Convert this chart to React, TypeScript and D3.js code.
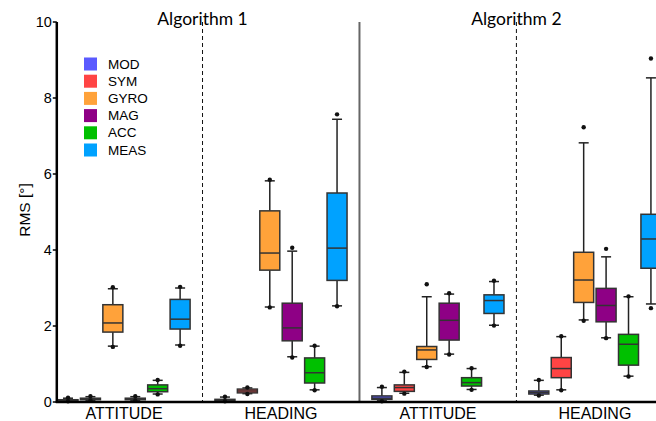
import React from "react";
import * as d3 from "d3";

// Series & groups
const seriesNames = ["MOD", "SYM", "GYRO", "MAG", "ACC", "MEAS"];
const seriesColors = ["#5a5aff", "#ff4444", "#ffa23a", "#8e0085", "#00c000", "#00a2ff"];
const groupLabels = ["ATTITUDE", "HEADING", "ATTITUDE", "HEADING"];
const algorithmTitles = ["Algorithm 1", "Algorithm 2"];
const yTicks = [0, 2, 4, 6, 8, 10];

// Each entry: [min, whiskerLow, q1, median, q3, whiskerHigh, max] per group
const MOD = [
  [0.02, 0.02, 0.03, 0.05, 0.06, 0.1, 0.11],
  [0.02, 0.02, 0.03, 0.05, 0.07, 0.13, 0.14],
  [0.02, 0.03, 0.07, 0.1, 0.16, 0.38, 0.4],
  [0.17, 0.18, 0.21, 0.25, 0.29, 0.57, 0.58],
];
const SYM = [
  [0.04, 0.04, 0.06, 0.08, 0.1, 0.14, 0.15],
  [0.21, 0.22, 0.24, 0.29, 0.34, 0.37, 0.38],
  [0.22, 0.23, 0.28, 0.38, 0.45, 0.78, 0.8],
  [0.31, 0.32, 0.64, 0.88, 1.17, 1.72, 1.73],
];
const GYRO = [
  [1.45, 1.47, 1.84, 2.08, 2.56, 2.98, 3.02],
  [2.49, 2.5, 3.47, 3.92, 5.03, 5.82, 5.85],
  [0.92, 0.93, 1.12, 1.37, 1.46, 2.77, 3.1],
  [2.14, 2.16, 2.62, 3.21, 3.94, 6.82, 7.23],
];
const MAG = [
  [0.04, 0.04, 0.06, 0.08, 0.1, 0.14, 0.15],
  [1.17, 1.19, 1.61, 1.95, 2.6, 3.97, 4.06],
  [1.25, 1.26, 1.63, 2.15, 2.6, 2.84, 2.86],
  [1.68, 1.69, 2.11, 2.54, 2.99, 3.82, 4.03],
];
const ACC = [
  [0.2, 0.21, 0.27, 0.35, 0.45, 0.57, 0.58],
  [0.31, 0.32, 0.5, 0.77, 1.16, 1.47, 1.48],
  [0.32, 0.33, 0.42, 0.51, 0.64, 0.88, 0.89],
  [0.67, 0.68, 0.97, 1.52, 1.78, 2.77, 2.78],
];
const MEAS = [
  [1.48, 1.5, 1.92, 2.18, 2.7, 3.0, 3.03],
  [2.52, 2.53, 3.2, 4.05, 5.5, 7.44, 7.57],
  [2.01, 2.02, 2.33, 2.67, 2.82, 3.17, 3.19],
  [2.47, 2.58, 3.52, 4.29, 4.94, 8.53, 9.04],
];
const seriesData = [MOD, SYM, GYRO, MAG, ACC, MEAS];

const W = 656;
const H = 421;

export default function App() {
  const slotsPerGroup = 7;
  const x = d3.scaleLinear().domain([-0.5, 27.5]).range([56.8, 56.8 + 28 * 22.42]);
  const y = d3.scaleLinear().domain([0, 10]).range([402, 22]);
  const boxW = 20;
  const capW = 10;
  const axisFont = "'Liberation Sans', Arial, sans-serif";

  const boxes: React.ReactNode[] = [];
  seriesData.forEach((sd, si) => {
    sd.forEach((st, gi) => {
      const [mn, lo, q1, med, q3, hi, mx] = st;
      const cx = x(gi * slotsPerGroup + si);
      const color = seriesColors[si];
      boxes.push(
        <g key={`b-${si}-${gi}`}>
          <line x1={cx} x2={cx} y1={y(hi)} y2={y(q3)} stroke="#222" strokeWidth={1.5} />
          <line x1={cx} x2={cx} y1={y(q1)} y2={y(lo)} stroke="#222" strokeWidth={1.5} />
          <line x1={cx - capW / 2} x2={cx + capW / 2} y1={y(hi)} y2={y(hi)} stroke="#222" strokeWidth={1.5} />
          <line x1={cx - capW / 2} x2={cx + capW / 2} y1={y(lo)} y2={y(lo)} stroke="#222" strokeWidth={1.5} />
          <rect
            x={cx - boxW / 2}
            y={y(q3)}
            width={boxW}
            height={Math.max(y(q1) - y(q3), 1)}
            fill={color}
            stroke="#333"
            strokeWidth={1.5}
          />
          <line x1={cx - boxW / 2} x2={cx + boxW / 2} y1={y(med)} y2={y(med)} stroke="#333" strokeWidth={1.5} />
          <circle cx={cx} cy={y(mx)} r={2.2} fill="#111" />
          <circle cx={cx} cy={y(mn)} r={2.2} fill="#111" />
        </g>
      );
    });
  });

  const dividers = [1, 2, 3].map((k) => {
    const xv = x(k * slotsPerGroup - 1);
    if (k === 2) {
      return <line key={`d${k}`} x1={xv} x2={xv} y1={y(10)} y2={y(0)} stroke="#666" strokeWidth={2} />;
    }
    return (
      <line key={`d${k}`} x1={xv} x2={xv} y1={y(10)} y2={y(0)} stroke="#111" strokeWidth={1} strokeDasharray="4,3" />
    );
  });

  return (
    <div style={{ position: "fixed", left: 0, top: 0 }}>
      <svg width={W} height={H} style={{ display: "block", background: "#fff" }}>
        {dividers}
        {boxes}
        {/* y axis */}
        <line x1={x(-0.5)} x2={x(-0.5)} y1={y(10)} y2={y(0) + 1} stroke="#000" strokeWidth={2.5} />
        {yTicks.map((t) => (
          <g key={`t${t}`}>
            <line x1={x(-0.5) - 4} x2={x(-0.5)} y1={y(t)} y2={y(t)} stroke="#000" strokeWidth={1.5} />
            <text
              x={x(-0.5) - 5}
              y={y(t)}
              textAnchor="end"
              dominantBaseline="central"
              fontFamily={axisFont}
              fontSize={14.5}
              fill="#000"
            >
              {t}
            </text>
          </g>
        ))}
        {/* x axis */}
        <line x1={x(-0.5) - 1} x2={W} y1={y(0)} y2={y(0)} stroke="#000" strokeWidth={2.5} />
        {groupLabels.map((g, gi) => (
          <text
            key={`g${gi}`}
            x={x(gi * slotsPerGroup + 2.5)}
            y={419}
            textAnchor="middle"
            fontFamily={axisFont}
            fontSize={16}
            fill="#000"
          >
            {g}
          </text>
        ))}
        {algorithmTitles.map((t, ai) => (
          <text
            key={`a${ai}`}
            x={x(ai * 14 + 6)}
            y={25}
            textAnchor="middle"
            fontFamily="Lato, 'Open Sans', sans-serif"
            fontSize={17.5}
            fill="#000"
          >
            {t}
          </text>
        ))}
        <text
          transform={`translate(30, 210) rotate(-90)`}
          textAnchor="middle"
          fontFamily={axisFont}
          fontSize={15.5}
          fill="#000"
        >
          RMS [°]
        </text>
        {/* legend */}
        {seriesNames.map((n, i) => {
          const cy = 64 + i * 17.2;
          return (
            <g key={`l${i}`}>
              <rect x={84} y={cy - 6.5} width={13} height={13} fill={seriesColors[i]} />
              <text x={108} y={cy} dominantBaseline="central" fontFamily={axisFont} fontSize={13.5} fill="#000">
                {n}
              </text>
            </g>
          );
        })}
      </svg>
    </div>
  );
}
